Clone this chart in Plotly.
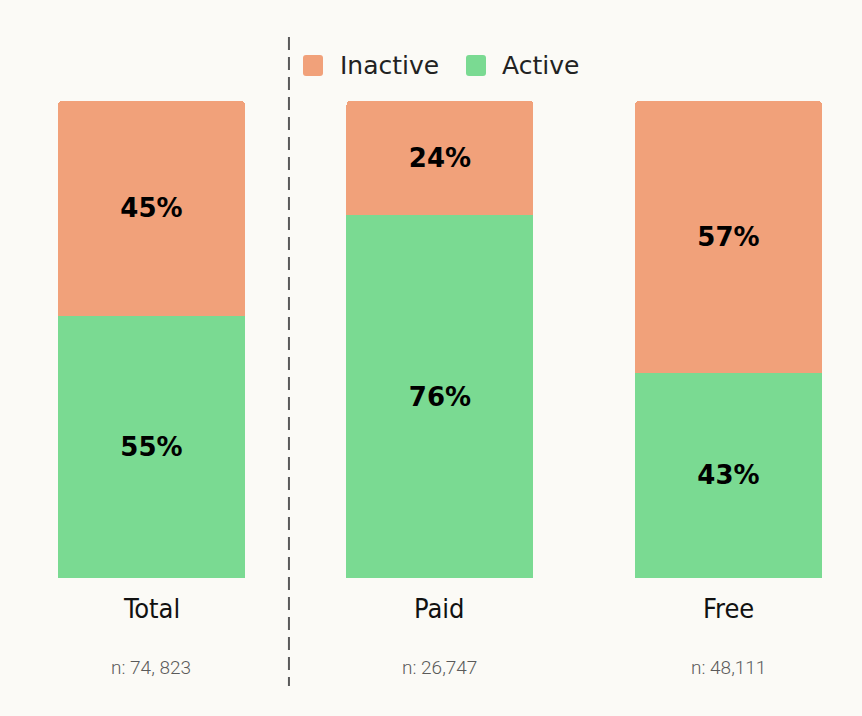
import plotly.graph_objects as go

categories = ["Total", "Paid", "Free"]
active = [55, 76, 43]
inactive = [45, 24, 57]
n_labels = ["n: 74, 823", "n: 26,747", "n: 48,111"]

ORANGE = "#F1A17A"
GREEN = "#7ADA92"
BG = "#FBFAF6"

W, H = 862, 716
T, B = 101, 138
PH = H - T - B

x = list(range(len(categories)))

fig = go.Figure()
fig.add_trace(go.Bar(
    x=x, y=active, name="Active", marker=dict(color=GREEN, line=dict(width=0)),
    width=0.648, text=[f"{v}%" for v in active], textposition="inside",
    insidetextanchor="middle",
    textfont=dict(family="DejaVu Sans", size=26, color="black", weight="bold"),
))
fig.add_trace(go.Bar(
    x=x, y=inactive, name="Inactive", marker=dict(color=ORANGE, line=dict(width=0)),
    width=0.648, text=[f"{v}%" for v in inactive], textposition="inside",
    insidetextanchor="middle",
    textfont=dict(family="DejaVu Sans", size=26, color="black", weight="bold"),
))

for xi, cat, nl in zip(x, categories, n_labels):
    fig.add_annotation(x=xi, y=-0.063, xref="x", yref="paper", text=cat,
                       showarrow=False, yanchor="middle",
                       font=dict(family="DejaVu Sans Condensed", size=27, color="#111111"))
    fig.add_annotation(x=xi, y=-0.187, xref="x", yref="paper", text=nl,
                       showarrow=False, yanchor="middle",
                       font=dict(family="Roboto", size=19, color="#5a5a5a", weight=300))

fig.add_shape(type="line", xref="x", yref="paper", x0=0.4766, x1=0.4766,
              y0=(578 - 37) / PH, y1=(578 - 686) / PH,
              line=dict(color="#5a5a5a", width=2, dash="13px,7px"))


def px_x(p):
    return p / W


def px_y(p):
    return (H - B - p) / PH


def rounded_rect(x0, y0, x1, y1, r=3):
    X = px_x
    Y = px_y
    return (f"M {X(x0 + r)},{Y(y0)} L {X(x1 - r)},{Y(y0)} Q {X(x1)},{Y(y0)} {X(x1)},{Y(y0 + r)} "
            f"L {X(x1)},{Y(y1 - r)} Q {X(x1)},{Y(y1)} {X(x1 - r)},{Y(y1)} "
            f"L {X(x0 + r)},{Y(y1)} Q {X(x0)},{Y(y1)} {X(x0)},{Y(y1 - r)} "
            f"L {X(x0)},{Y(y0 + r)} Q {X(x0)},{Y(y0)} {X(x0 + r)},{Y(y0)} Z")


legend_items = [("Inactive", ORANGE, 303, 338), ("Active", GREEN, 466, 500)]
for label, col, sx, tx in legend_items:
    fig.add_shape(type="path", xref="paper", yref="paper",
                  path=rounded_rect(sx, 55, sx + 20, 76), fillcolor=col,
                  line=dict(width=0))
    fig.add_annotation(x=px_x(tx), y=px_y(66), xref="paper", yref="paper", text=label,
                       showarrow=False, xanchor="left", yanchor="middle",
                       font=dict(family="DejaVu Sans", size=25, color="#222222"))

fig.update_layout(
    width=W, height=H,
    barmode="stack", barcornerradius=4,
    paper_bgcolor=BG, plot_bgcolor=BG,
    margin=dict(l=0, r=0, t=T, b=B),
    xaxis=dict(range=[-0.525, 2.463], showticklabels=False, showgrid=False,
               zeroline=False, showline=False),
    yaxis=dict(range=[0, 100], visible=False),
    showlegend=False,
    uniformtext=dict(minsize=10, mode="show"),
)

fig.write_html("out.html", config={"displayModeBar": False},
               post_script="document.body.style.margin='0';document.body.style.background='%s';" % BG)
